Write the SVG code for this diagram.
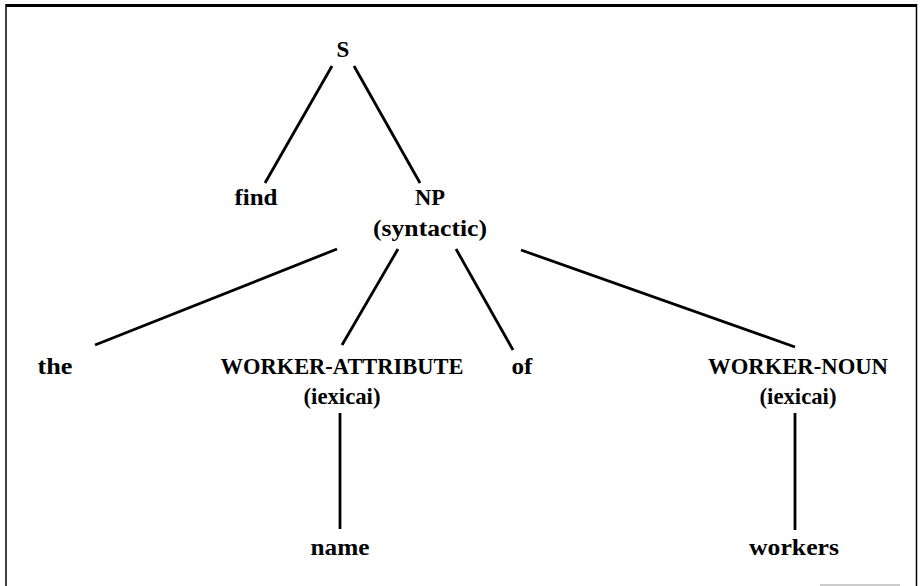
<svg xmlns="http://www.w3.org/2000/svg" width="920" height="586" viewBox="0 0 920 586">
<style>
text{font-family:"Liberation Serif","Times New Roman",serif;font-weight:bold;font-size:23px;fill:#000;text-anchor:middle}
.e{stroke:#000;stroke-width:2.8;stroke-linecap:butt;fill:none}
.f{stroke:#000;fill:none}
</style>
<rect width="920" height="586" fill="#fff"/>
<g id="frame">
<line class="f" x1="6" y1="5.5" x2="917" y2="5.5" stroke-width="3"/>
<line class="f" x1="6" y1="4" x2="6" y2="586" stroke-width="1.5"/>
<line class="f" x1="916.5" y1="4" x2="916.5" y2="586" stroke-width="1.5"/>
<line x1="820" y1="585" x2="900" y2="585" stroke="#bbb" stroke-width="1.5"/>
</g>
<g id="connectors">
<line class="e" x1="332" y1="66" x2="265" y2="183"/>
<line class="e" x1="354" y1="66" x2="420" y2="183"/>
<line class="e" x1="337" y1="249" x2="95" y2="345"/>
<line class="e" x1="398" y1="249" x2="342" y2="345"/>
<line class="e" x1="456" y1="249" x2="513" y2="350"/>
<line class="e" x1="521" y1="250" x2="795" y2="347"/>
<line class="e" x1="340" y1="413" x2="340" y2="529"/>
<line class="e" x1="795" y1="413" x2="795" y2="530"/>
</g>
<g id="n-S"><text x="343" y="57">S</text></g>
<g id="n-find"><text x="256" y="205" textLength="43" lengthAdjust="spacingAndGlyphs">find</text></g>
<g id="n-NP"><text x="430" y="205" textLength="30" lengthAdjust="spacingAndGlyphs">NP</text><text x="430" y="236" textLength="114" lengthAdjust="spacingAndGlyphs">(syntactic)</text></g>
<g id="n-the"><text x="55" y="374" textLength="35" lengthAdjust="spacingAndGlyphs">the</text></g>
<g id="n-worker-attribute"><text x="342" y="374" textLength="243" lengthAdjust="spacingAndGlyphs">WORKER-ATTRIBUTE</text><text x="342" y="404" textLength="77" lengthAdjust="spacingAndGlyphs">(iexicai)</text></g>
<g id="n-of"><text x="522" y="374" textLength="21" lengthAdjust="spacingAndGlyphs">of</text></g>
<g id="n-worker-noun"><text x="798" y="374" textLength="180" lengthAdjust="spacingAndGlyphs">WORKER-NOUN</text><text x="798" y="404" textLength="77" lengthAdjust="spacingAndGlyphs">(iexicai)</text></g>
<g id="n-name"><text x="340" y="555" textLength="59" lengthAdjust="spacingAndGlyphs">name</text></g>
<g id="n-workers"><text x="794" y="555" textLength="90" lengthAdjust="spacingAndGlyphs">workers</text></g>
</svg>
